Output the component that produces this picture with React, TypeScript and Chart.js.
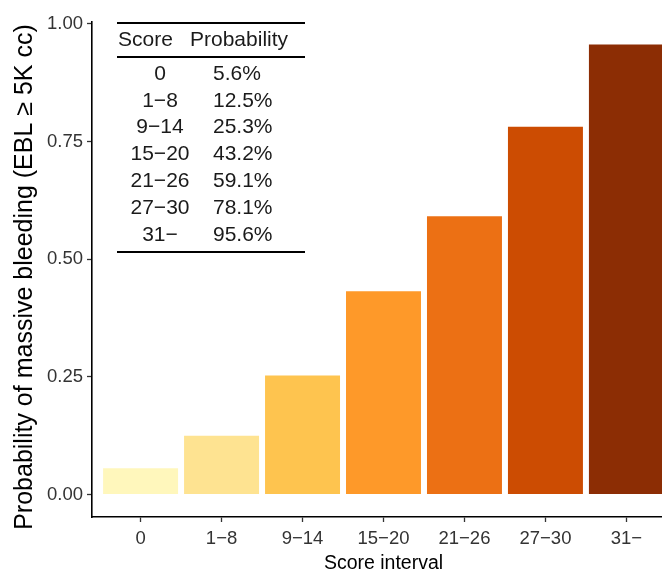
import React, { useEffect, useRef } from "react";
import { Chart, registerables } from "chart.js";

Chart.register(...registerables);

const categories = ["0", "1−8", "9−14", "15−20", "21−26", "27−30", "31−"];
const probabilities = [0.056, 0.125, 0.253, 0.432, 0.591, 0.781, 0.956];
const barColors = ["#fff7bc", "#fee391", "#fec44f", "#fe9929", "#ec7014", "#cc4c02", "#8c2d04"];
const yTicks = [0, 0.25, 0.5, 0.75, 1.0];
const tableHeader = ["Score", "Probability"];
const yTitle = "Probability of massive bleeding (EBL ≥ 5K cc)";
const xTitle = "Score interval";

const FONT = '"Liberation Sans", Arial, Helvetica, sans-serif';

const tablePlugin = {
  id: "scoreTable",
  afterDraw(chart: any) {
    const ctx = chart.ctx;
    ctx.save();
    ctx.strokeStyle = "#000";
    ctx.lineWidth = 2;
    const x0 = 117, x1 = 305;
    [23, 57, 252].forEach((y) => {
      ctx.beginPath();
      ctx.moveTo(x0, y);
      ctx.lineTo(x1, y);
      ctx.stroke();
    });
    ctx.fillStyle = "#1a1a1a";
    ctx.font = `21px ${FONT}`;
    ctx.textBaseline = "middle";
    ctx.textAlign = "left";
    ctx.fillText(tableHeader[0], 118, 40);
    ctx.fillText(tableHeader[1], 190, 40);
    const step = 26.8;
    categories.forEach((c, i) => {
      const y = 74 + i * step;
      ctx.textAlign = "center";
      ctx.fillText(c, 160, y);
      ctx.textAlign = "left";
      ctx.fillText((probabilities[i] * 100).toFixed(1) + "%", 213, y);
    });
    // rotated y-axis title
    ctx.translate(25, 277);
    ctx.rotate(-Math.PI / 2);
    ctx.fillStyle = "#000";
    ctx.font = `25px ${FONT}`;
    ctx.textAlign = "center";
    ctx.textBaseline = "middle";
    ctx.fillText(yTitle, 0, 0);
    ctx.restore();
  },
};

export default function App() {
  const ref = useRef<HTMLCanvasElement>(null);
  useEffect(() => {
    if (!ref.current) return;
    const chart = new Chart(ref.current, {
      type: "bar",
      data: {
        datasets: [
          {
            data: probabilities.map((v, i) => ({ x: i, y: v })),
            backgroundColor: barColors,
            borderWidth: 0,
            categoryPercentage: 1,
            barPercentage: 0.926,
          },
        ],
      },
      options: {
        responsive: false,
        animation: false,
        devicePixelRatio: 1,
        layout: { padding: { top: 22, right: 5, left: 0, bottom: 0 } },
        plugins: { legend: { display: false }, tooltip: { enabled: false } },
        scales: {
          x: {
            type: "linear",
            offset: false,
            min: -0.6,
            max: categories.length - 1 + 0.6,
            afterBuildTicks: (scale: any) => {
              scale.ticks = categories.map((_, i) => ({ value: i }));
            },
            afterFit: (scale: any) => {
              scale.height = 55;
            },
            grid: {
              offset: false,
              drawOnChartArea: false,
              drawTicks: true,
              tickLength: 5,
              tickColor: "#333",
              tickWidth: 1.3,
            },
            border: { display: true, color: "#000", width: 1.6 },
            ticks: {
              autoSkip: false,
              maxRotation: 0,
              padding: 6,
              color: "#333",
              font: { family: FONT, size: 18.5 },
              callback: (v: any) => categories[Math.round(Number(v))] ?? "",
            },
            title: {
              display: true,
              text: xTitle,
              color: "#000",
              font: { family: FONT, size: 19.5, lineHeight: 0.9 },
              padding: { top: 0, bottom: 0 },
            },
          },
          y: {
            min: -0.0478,
            max: 1.0038,
            afterBuildTicks: (scale: any) => {
              scale.ticks = yTicks.map((v) => ({ value: v }));
            },
            afterFit: (scale: any) => {
              scale.width = 92;
            },
            grid: {
              drawOnChartArea: false,
              drawTicks: true,
              tickLength: 5,
              tickColor: "#333",
              tickWidth: 1.3,
            },
            border: { display: true, color: "#000", width: 1.6 },
            ticks: {
              padding: 4,
              color: "#333",
              font: { family: FONT, size: 18.5 },
              callback: (v: any) => Number(v).toFixed(2),
            },
            title: { display: false },
          },
        },
      },
      plugins: [tablePlugin],
    });
    return () => chart.destroy();
  }, []);
  return (
    <div
      style={{
        position: "absolute",
        left: 0,
        top: 0,
        width: 662,
        height: 572,
        overflow: "hidden",
        background: "#fff",
      }}
    >
      <canvas ref={ref} width={680} height={572} style={{ width: 680, height: 572, display: "block" }} />
    </div>
  );
}
